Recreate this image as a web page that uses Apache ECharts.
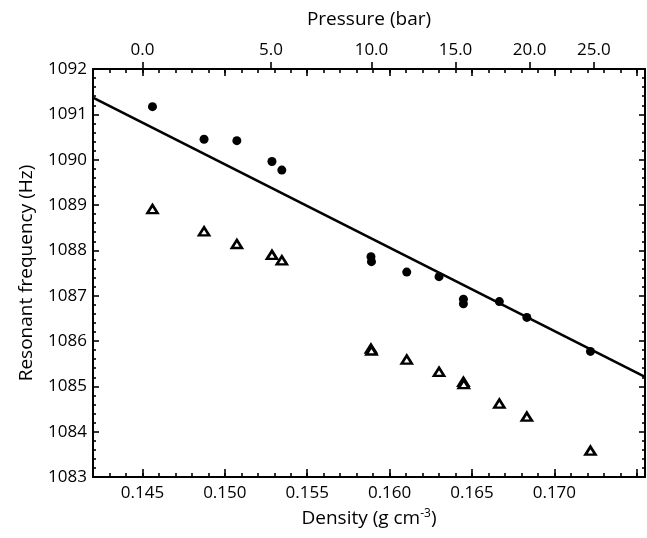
<!DOCTYPE html>
<html>
<head>
<meta charset="utf-8">
<script src="https://cdn.jsdelivr.net/npm/echarts@6/dist/echarts.min.js"></script>
<style>
html, body {margin: 0; padding: 0; background: #fff;}
#chart {width: 647px; height: 538px;}
</style>
</head>
<body>
<div id="chart"></div>
<script>
//----------------------Data----------------------
let density_circles = [0.14561, 0.14874, 0.15073, 0.15286, 0.15346, 0.15887, 0.15890, 0.16104, 0.16300, 0.16448, 0.16448, 0.16666, 0.16833, 0.17219];
let freq_circles = [1091.17, 1090.45, 1090.42, 1089.96, 1089.77, 1087.86, 1087.75, 1087.52, 1087.42, 1086.92, 1086.82, 1086.87, 1086.52, 1085.77];
let density_triangles = [0.14561, 0.14874, 0.15073, 0.15286, 0.15346, 0.15887, 0.15890, 0.16104, 0.16300, 0.16448, 0.16450, 0.16666, 0.16833, 0.17219];
let freq_triangles = [1088.91, 1088.42, 1088.14, 1087.90, 1087.78, 1085.83, 1085.79, 1085.59, 1085.32, 1085.10, 1085.05, 1084.62, 1084.33, 1083.58];
let fit_density = [0.142, 0.1755];
let fit_freq = [1091.37, 1085.21];
// tick labels
let density_labels = [0.145, 0.150, 0.155, 0.160, 0.165, 0.170];
let density_majors = [0.145, 0.150, 0.155, 0.160, 0.165, 0.170, 0.175];
let pressure_labels = ['0.0', '5.0', '10.0', '15.0', '20.0', '25.0'];
let pressure_at_density = [0.145, 0.1528, 0.1589, 0.1640, 0.1685, 0.1724];
let freq_min = 1083;
let freq_max = 1092;
//--------------------Location--------------------
let x_min = 0.142;
let x_max = 0.1755;
let font = "'Open Sans', sans-serif";
let density_minors = [];
for (let i = 142; i <= 175; i++) density_minors.push(i / 1000);

let chart_dom = document.getElementById("chart");
let chart = echarts.init(chart_dom);

function pair(xs, ys) {
    let out = [];
    for (let i = 0; i < xs.length; i++) out.push([xs[i], ys[i]]);
    return out;
}
function findPressure(v) {
    for (let i = 0; i < pressure_at_density.length; i++) {
        if (Math.abs(pressure_at_density[i] - v) < 1e-6) return pressure_labels[i];
    }
    return '';
}
//----------------------Axis----------------------
let tick_color = '#000';
function tickStyle() { return {color: tick_color, width: 1.6}; }
function baseX(position, extra) {
    let axis = {
        type: 'value', min: x_min, max: x_max, gridIndex: 0, position: position,
        splitLine: {show: false},
        axisLine: {show: false},
        axisLabel: {show: false},
    };
    return Object.assign(axis, extra);
}
let x_axes = [
    baseX('bottom', {
        axisLine: {show: true, lineStyle: {color: '#000', width: 2}},
        axisTick: {show: true, inside: true, length: 4, customValues: density_minors, lineStyle: tickStyle()},
        axisLabel: {show: true, customValues: density_labels, margin: 8, color: '#000', fontSize: 17, fontFamily: font,
            formatter: function (v) { return v.toFixed(3); }},
        name: 'Density (g cm{sup|-3})',
        nameLocation: 'middle', nameGap: 31,
        nameTextStyle: {color: '#000', fontSize: 19, fontFamily: font,
            rich: {sup: {fontSize: 12, fontFamily: font, color: '#000', padding: [0, 0, 10, 0]}}},
    }),
    baseX('bottom', {
        axisTick: {show: true, inside: true, length: 8, customValues: density_majors, lineStyle: tickStyle()},
    }),
    baseX('top', {
        axisLine: {show: true, lineStyle: {color: '#000', width: 2}},
        axisTick: {show: true, inside: true, length: 4, customValues: density_minors, lineStyle: tickStyle()},
    }),
    baseX('top', {
        axisTick: {show: true, inside: true, length: 7, customValues: density_majors, lineStyle: tickStyle()},
    }),
    baseX('top', {
        axisTick: {show: true, inside: false, length: 7, customValues: pressure_at_density, lineStyle: tickStyle()},
        axisLabel: {show: true, customValues: pressure_at_density, margin: 10, color: '#000', fontSize: 17, fontFamily: font,
            formatter: findPressure},
        name: 'Pressure (bar)',
        nameLocation: 'middle', nameGap: 40,
        nameTextStyle: {color: '#000', fontSize: 19, fontFamily: font},
    }),
];
let y_axes = [
    {
        type: 'value', min: freq_min, max: freq_max, interval: 1, position: 'left', gridIndex: 0,
        splitLine: {show: false},
        axisLine: {show: true, lineStyle: {color: '#000', width: 2}},
        axisTick: {show: true, inside: true, length: 6, lineStyle: tickStyle()},
        minorTick: {show: true, splitNumber: 5, length: 3, lineStyle: tickStyle()},
        axisLabel: {show: true, margin: 6, color: '#000', fontSize: 17, fontFamily: font,
            formatter: function (v) { return String(v); }},
        name: 'Resonant frequency (Hz)',
        nameLocation: 'middle', nameGap: 57,
        nameTextStyle: {color: '#000', fontSize: 19, fontFamily: font},
    },
    {
        type: 'value', min: freq_min, max: freq_max, interval: 1, position: 'right', gridIndex: 0,
        splitLine: {show: false},
        axisLine: {show: true, lineStyle: {color: '#000', width: 2}},
        axisTick: {show: true, inside: true, length: 6, lineStyle: tickStyle()},
        minorTick: {show: true, splitNumber: 5, length: 3, lineStyle: tickStyle()},
        axisLabel: {show: false},
    },
];
//---------------------Series---------------------
let series_list = [
    {
        type: 'line', xAxisIndex: 0, yAxisIndex: 0,
        data: pair(fit_density, fit_freq),
        symbol: 'none', silent: true,
        lineStyle: {color: '#000', width: 2.6},
    },
    {
        type: 'scatter', xAxisIndex: 0, yAxisIndex: 0,
        data: pair(density_circles, freq_circles),
        symbol: 'circle', symbolSize: 9,
        itemStyle: {color: '#000', opacity: 1},
    },
    {
        type: 'scatter', xAxisIndex: 0, yAxisIndex: 0,
        data: pair(density_triangles, freq_triangles),
        symbol: 'triangle', symbolSize: [10, 8],
        itemStyle: {color: '#fff', borderColor: '#000', borderWidth: 2.6, opacity: 1},
    },
];
//------------------Generate Graph------------------
let chart_option = {
    backgroundColor: '#fff',
    animation: false,
    grid: {left: 93, right: 2, top: 69, bottom: 61, containLabel: false, outerBoundsMode: 'none'},
    xAxis: x_axes,
    yAxis: y_axes,
    series: series_list,
};
chart.setOption(chart_option, true);
</script>
</body>
</html>
